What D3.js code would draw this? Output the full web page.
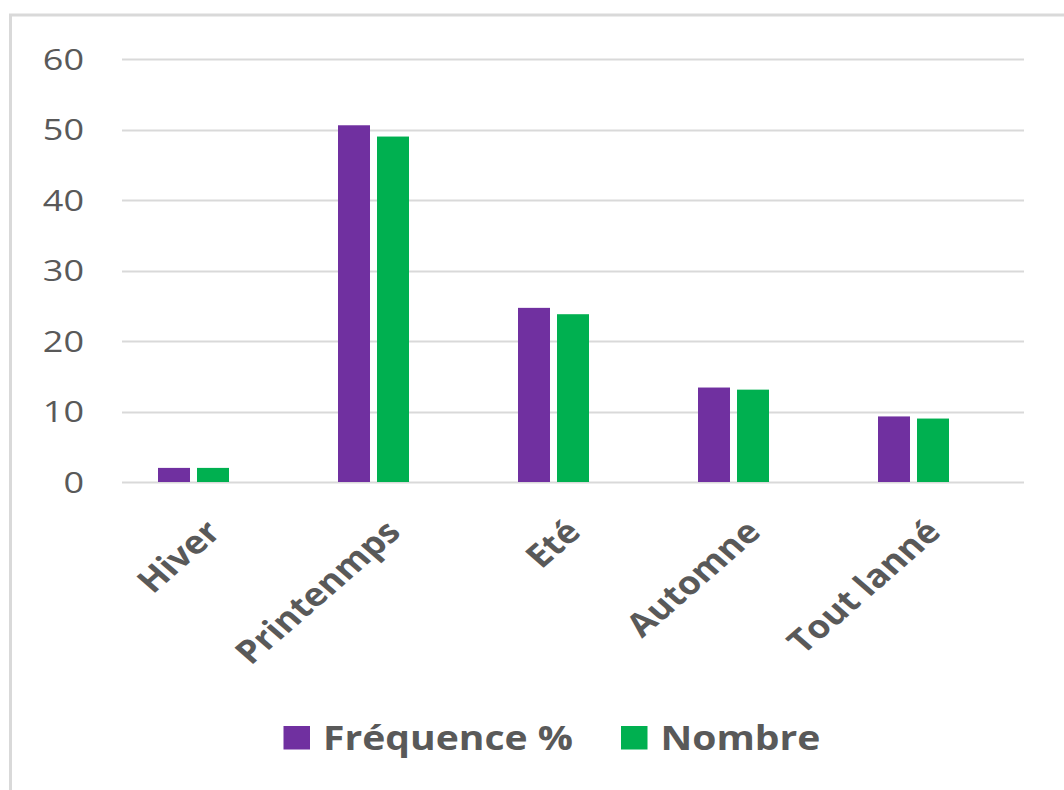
<!DOCTYPE html>
<html><head><meta charset="utf-8">
<script src="https://cdn.jsdelivr.net/npm/d3@7"></script>
<style>body{margin:0;background:#fff}svg{display:block}</style>
</head><body>
<script>
const categories = ["Hiver", "Printenmps", "Eté", "Automne", "Tout lanné"];
const seriesNames = ["Fréquence %", "Nombre"];
const frequence = [2.0, 50.6, 24.7, 13.4, 9.3];
const nombre = [2.0, 49.0, 23.8, 13.1, 9.0];
const yTicks = [0, 10, 20, 30, 40, 50, 60];
const colors = ["#7030A0", "#00B050"];

const W = 1064, H = 790;
const svg = d3.select("body").append("svg").attr("width", W).attr("height", H);

// chart border
svg.append("rect").attr("x", 10.5).attr("y", 15).attr("width", W + 20).attr("height", H + 20)
  .attr("fill", "none").attr("stroke", "#d9d9d9").attr("stroke-width", 3);

const y = d3.scaleLinear().domain([0, 60]).range([482, 59]);
const x0 = d3.scaleBand().domain(categories).range([103.5, 1003.5]);
const x1 = d3.scaleBand().domain(seriesNames).range([0, 71]).paddingInner(7 / 39);
const groupOff = (x0.bandwidth() - 71) / 2;

// gridlines
svg.append("g").selectAll("line").data(yTicks).join("line")
  .attr("x1", 122).attr("x2", 1024)
  .attr("y1", d => Math.round(y(d)) + 0.5).attr("y2", d => Math.round(y(d)) + 0.5)
  .attr("stroke", "#d9d9d9").attr("stroke-width", 2);

// y tick labels
svg.append("g").selectAll("text").data(yTicks).join("text")
  .attr("transform", d => `translate(84,${y(d)}) scale(1.2,1)`)
  .attr("text-anchor", "end").attr("dy", "0.36em")
  .attr("font-family", "Open Sans").attr("font-size", 30).attr("fill", "#595959")
  .text(d => d);

// bars
const data = categories.map((c, i) => ({ cat: c, vals: [frequence[i], nombre[i]] }));
const g = svg.append("g").selectAll("g").data(data).join("g")
  .attr("transform", d => `translate(${x0(d.cat) + groupOff},0)`);
g.selectAll("rect").data(d => d.vals.map((v, j) => ({ s: seriesNames[j], v, j }))).join("rect")
  .attr("x", d => x1(d.s)).attr("width", x1.bandwidth())
  .attr("y", d => y(d.v)).attr("height", d => y(0) - y(d.v))
  .attr("fill", d => colors[d.j]);

// category labels
svg.append("g").selectAll("text").data(categories).join("text")
  .attr("transform", d => `translate(${x0(d) + x0.bandwidth() / 2 + 29},534) scale(1.15,1) rotate(-45)`)
  .attr("text-anchor", "end")
  .attr("font-family", "Open Sans").attr("font-weight", "bold").attr("font-size", 32).attr("fill", "#595959")
  .text(d => d);

// legend
const legendX = [283.5, 621];
const lg = svg.append("g").selectAll("g").data(seriesNames).join("g")
  .attr("transform", (d, i) => `translate(${legendX[i]},726)`);
lg.append("rect").attr("width", 26.5).attr("height", 23.5).attr("fill", (d, i) => colors[i]);
lg.append("text").attr("transform", "translate(39.5,23.5) scale(1.15,1)")
  .attr("font-family", "Open Sans").attr("font-weight", "bold").attr("font-size", 34).attr("fill", "#595959")
  .text(d => d);
</script>
</body></html>
